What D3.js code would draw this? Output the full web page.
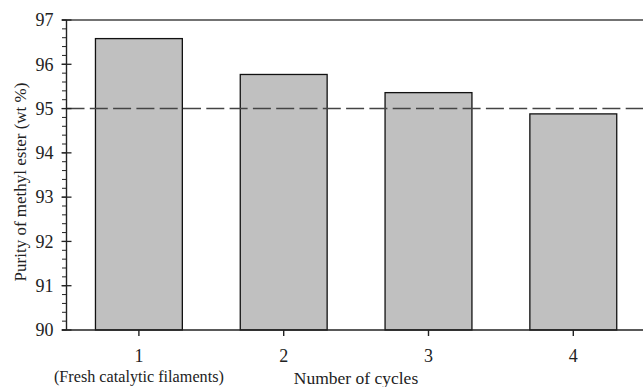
<!DOCTYPE html>
<html>
<head>
<meta charset="utf-8">
<script src="https://cdn.jsdelivr.net/npm/d3@7"></script>
</head>
<body style="margin:0">
<div id="chart-area"></div>
<script>
// data
var cycles = ["1", "2", "3", "4"];
var purity = [96.58, 95.77, 95.36, 94.88];
var yTicks = [90, 91, 92, 93, 94, 95, 96, 97];
var limit = 95;

var width = 643, height = 387;
var font = "Liberation Serif";

var svg = d3.select("#chart-area").append("svg")
            .attr("width", width)
            .attr("height", height)
            .style("display", "block");

var x = d3.scaleBand()
          .domain(cycles)
          .range([66.5, 645.7])
          .paddingInner(0.4)
          .paddingOuter(0.2);

var y = d3.scaleLinear()
          .domain([90, 97])
          .range([330, 20]);

var data = cycles.map((c, i) => { return {cycle: c, value: purity[i]}; });

// bars
svg.selectAll("rect.bar")
   .data(data)
   .enter()
   .append("rect")
     .attr("class", "bar")
     .attr("x", (d) => { return x(d.cycle); })
     .attr("y", (d) => { return y(d.value); })
     .attr("width", x.bandwidth())
     .attr("height", (d) => { return y(90) - y(d.value); })
     .attr("fill", "#c0c0c0")
     .attr("stroke", "#111")
     .attr("stroke-width", 1.3);

// 95 wt% reference line
svg.append("line")
   .attr("x1", 66.5).attr("x2", width)
   .attr("y1", y(limit)).attr("y2", y(limit))
   .attr("stroke", "#444")
   .attr("stroke-width", 1.4)
   .attr("stroke-dasharray", "18,5.3");

// top frame line
svg.append("line")
   .attr("x1", 62).attr("x2", width)
   .attr("y1", y(97)).attr("y2", y(97))
   .attr("stroke", "#444")
   .attr("stroke-width", 1.4);

// y axis: minor ticks outward, major ticks crossing
var yMinor = d3.range(90, 97.001, 0.2);
var yAxis = svg.append("g").attr("transform", "translate(66.5,0)");
yAxis.selectAll("line.minor")
     .data(yMinor)
     .enter().append("line")
       .attr("x1", -4.5).attr("x2", 0)
       .attr("y1", (d) => { return y(d); })
       .attr("y2", (d) => { return y(d); })
       .attr("stroke", "#222").attr("stroke-width", 1);
yAxis.selectAll("line.major")
     .data(yTicks)
     .enter().append("line")
       .attr("x1", -5).attr("x2", 5)
       .attr("y1", (d) => { return y(d); })
       .attr("y2", (d) => { return y(d); })
       .attr("stroke", "#222").attr("stroke-width", 1.3);
yAxis.append("line")
     .attr("x1", 0).attr("x2", 0)
     .attr("y1", y(97)).attr("y2", y(90))
     .attr("stroke", "#222").attr("stroke-width", 1.4);
yAxis.selectAll("text")
     .data(yTicks)
     .enter().append("text")
       .attr("x", -13)
       .attr("y", (d) => { return y(d); })
       .attr("dy", "0.35em")
       .attr("text-anchor", "end")
       .attr("font-family", font)
       .attr("font-size", 18)
       .attr("fill", "#222")
       .text((d) => { return d; });

// x axis
var xAxis = svg.append("g").attr("transform", "translate(0,330)");
xAxis.append("line")
     .attr("x1", 62).attr("x2", width)
     .attr("y1", 0).attr("y2", 0)
     .attr("stroke", "#222").attr("stroke-width", 1.4);
xAxis.selectAll("line.tick")
     .data(cycles)
     .enter().append("line")
       .attr("x1", (d) => { return x(d) + x.bandwidth() / 2; })
       .attr("x2", (d) => { return x(d) + x.bandwidth() / 2; })
       .attr("y1", 0).attr("y2", 6)
       .attr("stroke", "#222").attr("stroke-width", 1.4);
xAxis.selectAll("text.tick")
     .data(cycles)
     .enter().append("text")
       .attr("x", (d) => { return x(d) + x.bandwidth() / 2; })
       .attr("y", 32)
       .attr("text-anchor", "middle")
       .attr("font-family", font)
       .attr("font-size", 18)
       .attr("fill", "#222")
       .text((d) => { return d; });

svg.append("text")
   .attr("x", x("1") + x.bandwidth() / 2)
   .attr("y", 382)
   .attr("text-anchor", "middle")
   .attr("font-family", font)
   .attr("font-size", 16.2)
   .attr("fill", "#222")
   .text("(Fresh catalytic filaments)");

svg.append("text")
   .attr("x", 356)
   .attr("y", 384)
   .attr("text-anchor", "middle")
   .attr("font-family", font)
   .attr("font-size", 17.5)
   .attr("fill", "#222")
   .text("Number of cycles");

svg.append("text")
   .attr("transform", "translate(26,182) rotate(-90)")
   .attr("text-anchor", "middle")
   .attr("font-family", font)
   .attr("font-size", 17)
   .attr("fill", "#222")
   .text("Purity of methyl ester (wt %)");
</script>
</body>
</html>
